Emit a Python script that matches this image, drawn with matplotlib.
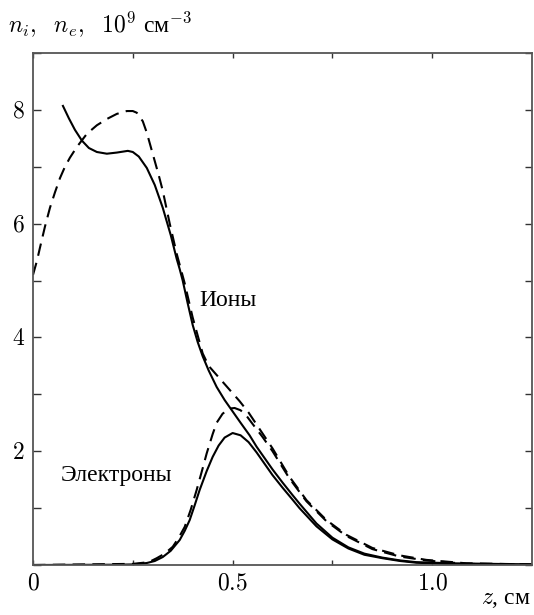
import matplotlib.pyplot as plt
from matplotlib.ticker import MultipleLocator, FixedLocator

plt.rcParams["mathtext.fontset"] = "cm"
plt.rcParams["font.family"] = ["Liberation Serif"]

# ---------------- DATA ----------------
# ions, solid
z_ion = [0.075, 0.09, 0.105, 0.1225, 0.14, 0.16, 0.185, 0.21, 0.2375, 0.25,
         0.265, 0.285, 0.305, 0.325, 0.345, 0.36, 0.3675, 0.375, 0.3875, 0.40,
         0.4125, 0.425, 0.44, 0.46, 0.48, 0.50, 0.52, 0.5425, 0.56, 0.58,
         0.60, 0.625, 0.65, 0.6675, 0.71, 0.75, 0.79, 0.83, 0.875, 0.92,
         0.96, 1.05, 1.15, 1.25]
n_ion = [8.07, 7.85, 7.65, 7.46, 7.33, 7.26, 7.23, 7.25, 7.28, 7.26,
         7.18, 6.98, 6.68, 6.28, 5.8, 5.38, 5.2, 5.0, 4.6, 4.22,
         3.92, 3.67, 3.42, 3.13, 2.9, 2.7, 2.5, 2.28, 2.08, 1.88,
         1.68, 1.45, 1.23, 1.08, 0.73, 0.48, 0.31, 0.2, 0.13, 0.08,
         0.05, 0.03, 0.02, 0.01]

# ions, dashed
z_ion_d = [0.0, 0.01, 0.0175, 0.03, 0.0425, 0.055, 0.0675, 0.08, 0.0925, 0.11,
           0.135, 0.16, 0.185, 0.21, 0.235, 0.25, 0.26, 0.275, 0.285, 0.295,
           0.305, 0.315, 0.325, 0.3425, 0.36, 0.38, 0.40, 0.425, 0.44, 0.4675,
           0.49, 0.5175, 0.54, 0.56, 0.58, 0.60, 0.6425, 0.685, 0.735, 0.785,
           0.85, 0.9175, 0.985, 1.085, 1.25]
n_ion_d = [5.1, 5.35, 5.58, 5.95, 6.28, 6.55, 6.8, 7.0, 7.16, 7.35,
           7.58, 7.73, 7.84, 7.93, 7.98, 7.98, 7.95, 7.8, 7.6, 7.35,
           7.1, 6.85, 6.58, 6.0, 5.47, 4.95, 4.35, 3.72, 3.5, 3.28,
           3.1, 2.88, 2.68, 2.47, 2.26, 2.05, 1.55, 1.14, 0.79, 0.53,
           0.3, 0.17, 0.09, 0.03, 0.01]

# electrons, solid
z_el = [0.0, 0.2, 0.25, 0.285, 0.305, 0.325, 0.345, 0.3675, 0.38, 0.3925,
        0.405, 0.4175, 0.435, 0.45, 0.465, 0.48, 0.50, 0.52, 0.54, 0.56,
        0.58, 0.60, 0.625, 0.65, 0.6675, 0.71, 0.75, 0.79, 0.83, 0.875,
        0.92, 0.96, 1.05, 1.25]
n_el = [0.0, 0.005, 0.01, 0.035, 0.07, 0.14, 0.25, 0.44, 0.6, 0.79,
        1.05, 1.32, 1.65, 1.9, 2.1, 2.24, 2.32, 2.28, 2.16, 1.98,
        1.78, 1.58, 1.36, 1.15, 1.0, 0.68, 0.45, 0.29, 0.18, 0.12,
        0.07, 0.04, 0.015, 0.005]

# electrons, dashed
z_el_d = [0.0, 0.25, 0.29, 0.31, 0.33, 0.35, 0.365, 0.38, 0.395, 0.41,
          0.425, 0.435, 0.45, 0.46, 0.475, 0.4925, 0.505, 0.52, 0.535, 0.55,
          0.575, 0.60, 0.6425, 0.685, 0.735, 0.785, 0.85, 0.9175, 0.985, 1.085,
          1.25]
n_el_d = [0.0, 0.02, 0.05, 0.12, 0.2, 0.32, 0.48, 0.67, 0.97, 1.32,
          1.7, 1.96, 2.3, 2.5, 2.66, 2.75, 2.76, 2.72, 2.62, 2.48,
          2.25, 2.0, 1.52, 1.12, 0.77, 0.51, 0.28, 0.15, 0.08, 0.02,
          0.005]

# ---------------- PLOT ----------------
fig = plt.figure(figsize=(5.34, 6.15), dpi=100)
ax = fig.add_axes([0.0618, 0.0813, 0.9345, 0.8325])

dash = (0, (6, 3.5))
ax.plot(z_ion, n_ion, color="black", lw=1.5)
ax.plot(z_ion_d, n_ion_d, color="black", lw=1.5, linestyle=dash)
ax.plot(z_el, n_el, color="black", lw=1.5)
ax.plot(z_el_d, n_el_d, color="black", lw=1.5, linestyle=dash)

ax.set_xlim(0, 1.25)
ax.set_ylim(0, 9)

ax.xaxis.set_major_locator(FixedLocator([0, 0.5, 1.0]))
ax.xaxis.set_minor_locator(FixedLocator([0.25, 0.75]))
ax.set_xticklabels(["$0$", "$0.5$", "$1.0$"])
ax.yaxis.set_major_locator(FixedLocator([2, 4, 6, 8]))
ax.yaxis.set_minor_locator(MultipleLocator(1))
ax.set_yticklabels(["$2$", "$4$", "$6$", "$8$"])

ax.tick_params(axis="both", which="both", direction="in", top=True, right=True,
               color="#333333", width=1.0, labelsize=17)
ax.tick_params(axis="x", which="both", length=3.6, pad=6)
ax.tick_params(axis="y", which="both", length=5.4, pad=6)

for sp in ax.spines.values():
    sp.set_color("#555555")
    sp.set_linewidth(1.3)

# Curve labels
ax.text(0.4175, 4.65, "Ионы", fontsize=17, va="center", ha="left")
ax.text(0.07, 1.58, "Электроны", fontsize=17, va="center", ha="left")

# Axis labels
fig.text(0.015, 0.96, r"$n_i,\ \ n_e,\ \ 10^9\ $см$^{-3}$", fontsize=17,
         ha="left", va="center")
fig.text(0.993, 0.025, r"$z$, см", fontsize=17, ha="right", va="center")

fig.savefig("out.png", dpi=100)
plt.close(fig)
